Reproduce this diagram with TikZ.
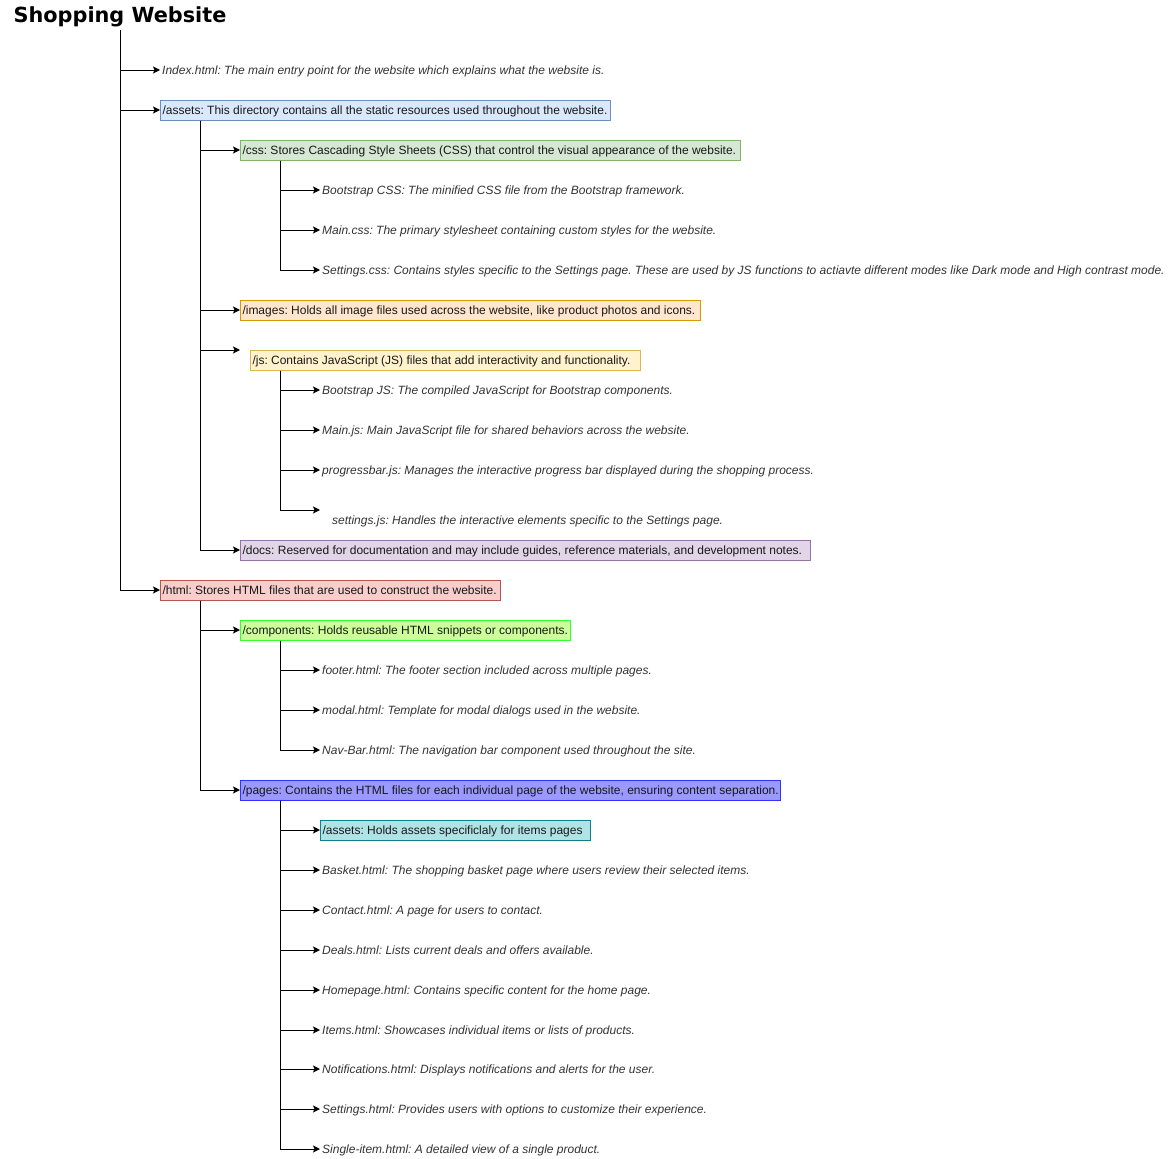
\documentclass[tikz,border=0pt]{standalone}
\usepackage{fontspec}
\setmainfont{Liberation Sans}
\newfontfamily\titlefont{DejaVu Sans}
\usetikzlibrary{arrows.meta,calc}
\definecolor{assetsF}{HTML}{DAE8FC}\definecolor{assetsD}{HTML}{6C8EBF}
\definecolor{cssF}{HTML}{D5E8D4}\definecolor{cssD}{HTML}{82B366}
\definecolor{imgF}{HTML}{FFE6CC}\definecolor{imgD}{HTML}{D79B00}
\definecolor{jsF}{HTML}{FFF2CC}\definecolor{jsD}{HTML}{D6B656}
\definecolor{docsF}{HTML}{E1D5E7}\definecolor{docsD}{HTML}{9673A6}
\definecolor{htmlF}{HTML}{F8CECC}\definecolor{htmlD}{HTML}{B85450}
\definecolor{compF}{HTML}{CCFF99}\definecolor{compD}{HTML}{33FF33}
\definecolor{pagesF}{HTML}{9999FF}\definecolor{pagesD}{HTML}{3333FF}
\definecolor{pasF}{HTML}{B0E3E6}\definecolor{pasD}{HTML}{0E8088}
\definecolor{itemtext}{HTML}{333333}
\frenchspacing
\begin{document}
\frenchspacing
\begin{tikzpicture}[x=1pt,y=-1pt,
  conn/.style={draw=black,line width=1pt,-{Stealth[length=7pt,width=7pt,inset=1.5pt]}},
  item/.style={anchor=west,inner xsep=2pt,inner ysep=0pt,text height=9pt,text depth=1pt,font=\fontsize{12}{14}\selectfont\itshape\frenchspacing,text=itemtext},
  fbox/.style 2 args={anchor=west,draw=#2,fill=#1,line width=1pt,minimum height=20pt,inner xsep=2pt,inner ysep=0pt,text height=9pt,text depth=1pt,font=\fontsize{12}{14}\selectfont\frenchspacing,text=black!90},
]
\useasboundingbox (0,0) rectangle (1171,1159);
\node[font=\titlefont\bfseries\fontsize{20.8}{24}\selectfont, minimum height=26pt, inner sep=0pt] (title) at (120,17) {Shopping Website};

% level 1
\node[item] (index) at (160,70) {Index.html: The main entry point for the website which explains what the website is.};
\node[fbox={assetsF}{assetsD}] (assets) at (160,110) {\makebox[446pt][l]{/assets: This directory contains all the static resources used throughout the website.}};
\node[fbox={htmlF}{htmlD}] (html) at (160,590) {\makebox[336pt][l]{/html: Stores HTML files that are used to construct the website.}};
\draw[conn] (title.south) |- (index.west);
\draw[conn] (title.south) |- (assets.west);
\draw[conn] (title.south) |- (html.west);

% assets children
\node[fbox={cssF}{cssD}] (css) at (240,150) {\makebox[496pt][l]{/css: Stores Cascading Style Sheets (CSS) that control the visual appearance of the website.}};
\node[fbox={imgF}{imgD}] (images) at (240,310) {\makebox[456pt][l]{/images: Holds all image files used across the website, like product photos and icons.}};
\coordinate (jsend) at (240,350);
\node[fbox={jsF}{jsD}] (js) at (250,360) {\makebox[386pt][l]{/js: Contains JavaScript (JS) files that add interactivity and functionality.}};
\node[fbox={docsF}{docsD}] (docs) at (240,550) {\makebox[566pt][l]{/docs: Reserved for documentation and may include guides, reference materials, and development notes.}};
\draw[conn] ($(assets.south west)+(40,0)$) |- (css.west);
\draw[conn] ($(assets.south west)+(40,0)$) |- (images.west);
\draw[conn] ($(assets.south west)+(40,0)$) |- (jsend);
\draw[conn] ($(assets.south west)+(40,0)$) |- (docs.west);

% css children
\node[item] (bcss) at (320,190) {Bootstrap CSS: The minified CSS file from the Bootstrap framework.};
\node[item] (maincss) at (320,230) {Main.css: The primary stylesheet containing custom styles for the website.};
\node[item] (setcss) at (320,270) {Settings.css: Contains styles specific to the Settings page. These are used by JS functions to actiavte different modes like Dark mode and High contrast mode.};
\draw[conn] ($(css.south west)+(40,0)$) |- (bcss.west);
\draw[conn] ($(css.south west)+(40,0)$) |- (maincss.west);
\draw[conn] ($(css.south west)+(40,0)$) |- (setcss.west);

% js children
\node[item] (bjs) at (320,390) {Bootstrap JS: The compiled JavaScript for Bootstrap components.};
\node[item] (mainjs) at (320,430) {Main.js: Main JavaScript file for shared behaviors across the website.};
\node[item] (pbjs) at (320,470) {progressbar.js: Manages the interactive progress bar displayed during the shopping process.};
\coordinate (sjend) at (320,510);
\node[item] (setjs) at (330,520) {settings.js: Handles the interactive elements specific to the Settings page.};
\draw[conn] ($(js.south west)+(30,0)$) |- (bjs.west);
\draw[conn] ($(js.south west)+(30,0)$) |- (mainjs.west);
\draw[conn] ($(js.south west)+(30,0)$) |- (pbjs.west);
\draw[conn] ($(js.south west)+(30,0)$) |- (sjend);

% html children
\node[fbox={compF}{compD}] (comp) at (240,630) {\makebox[326pt][l]{/components: Holds reusable HTML snippets or components.}};
\node[fbox={pagesF}{pagesD}] (pages) at (240,790) {\makebox[536pt][l]{/pages: Contains the HTML files for each individual page of the website, ensuring content separation.}};
\draw[conn] ($(html.south west)+(40,0)$) |- (comp.west);
\draw[conn] ($(html.south west)+(40,0)$) |- (pages.west);

% components children
\node[item] (footer) at (320,670) {footer.html: The footer section included across multiple pages.};
\node[item] (modal) at (320,710) {modal.html: Template for modal dialogs used in the website.};
\node[item] (navbar) at (320,750) {Nav-Bar.html: The navigation bar component used throughout the site.};
\draw[conn] ($(comp.south west)+(40,0)$) |- (footer.west);
\draw[conn] ($(comp.south west)+(40,0)$) |- (modal.west);
\draw[conn] ($(comp.south west)+(40,0)$) |- (navbar.west);

% pages children
\node[fbox={pasF}{pasD}] (passets) at (320,830) {\makebox[266pt][l]{/assets: Holds assets specificlaly for items pages}};
\node[item] (basket) at (320,870) {Basket.html: The shopping basket page where users review their selected items.};
\node[item] (contact) at (320,910) {Contact.html: A page for users to contact.};
\node[item] (deals) at (320,950) {Deals.html: Lists current deals and offers available.};
\node[item] (home) at (320,990) {Homepage.html: Contains specific content for the home page.};
\node[item] (items) at (320,1030) {Items.html: Showcases individual items or lists of products.};
\node[item] (notif) at (320,1069) {Notifications.html: Displays notifications and alerts for the user.};
\node[item] (sethtml) at (320,1109) {Settings.html: Provides users with options to customize their experience.};
\node[item] (single) at (320,1149) {Single-item.html: A detailed view of a single product.};
\foreach \n in {passets,basket,contact,deals,home,items,notif,sethtml,single}
  \draw[conn] ($(pages.south west)+(40,0)$) |- (\n.west);
\end{tikzpicture}
\end{document}
